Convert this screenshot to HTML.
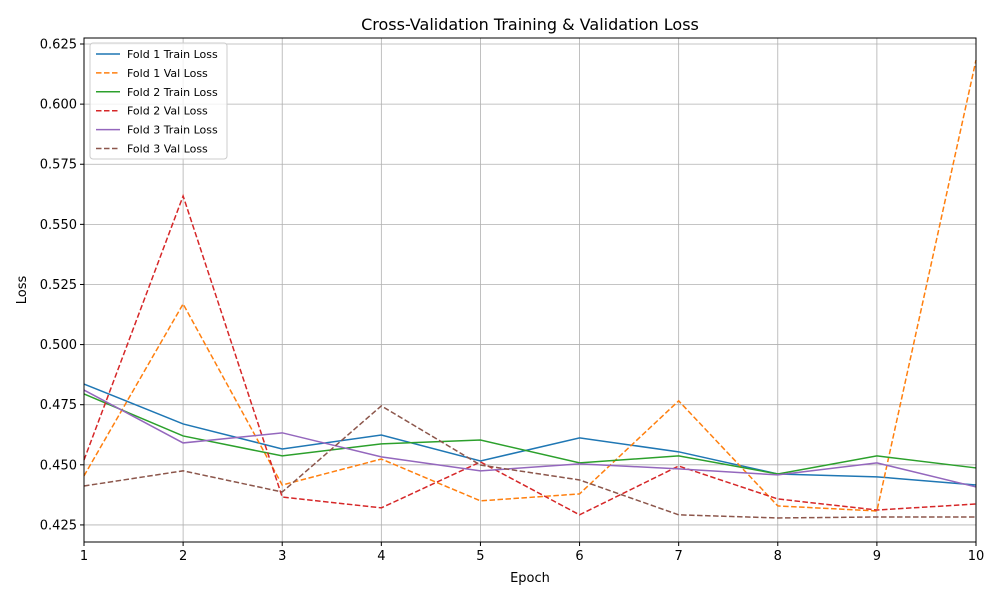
<!DOCTYPE html>
<html><head><meta charset="utf-8"><style>
body{margin:0;background:#fff;font-family:"Liberation Sans","DejaVu Sans",sans-serif}
svg text{font-family:"DejaVu Sans","Liberation Sans",sans-serif}
</style></head><body>
<svg id="chart" width="1000" height="600" xmlns="http://www.w3.org/2000/svg">
<rect width="1000" height="600" fill="#fff"/>
<g id="grid"></g>
<g id="series"></g>
<rect x="84" y="38" width="892" height="504" fill="none" stroke="#000" stroke-width="1"/>
<g id="ticks"></g>
<text x="530" y="30" text-anchor="middle" font-size="16">Cross-Validation Training &amp; Validation Loss</text>
<text x="530" y="582" text-anchor="middle" font-size="13">Epoch</text>
<text x="26" y="290" text-anchor="middle" font-size="13" transform="rotate(-90 26 290)">Loss</text>
<g id="legend"></g>
</svg>
<script>
const epochs=[1,2,3,4,5,6,7,8,9,10];
const yTicks=[0.425,0.45,0.475,0.5,0.525,0.55,0.575,0.6,0.625];
const seriesNames=["Fold 1 Train Loss","Fold 1 Val Loss","Fold 2 Train Loss","Fold 2 Val Loss","Fold 3 Train Loss","Fold 3 Val Loss"];
const fold1Train=[0.4836,0.467,0.4566,0.4624,0.4516,0.4612,0.4554,0.4462,0.445,0.4416];
const fold1Val=[0.4454,0.5169,0.4416,0.4524,0.435,0.4379,0.4766,0.4329,0.4308,0.6183];
const fold2Train=[0.4795,0.462,0.4537,0.4587,0.4603,0.4508,0.4537,0.4462,0.4537,0.4487];
const fold2Val=[0.452,0.5618,0.4366,0.4321,0.4512,0.4292,0.4495,0.4358,0.4312,0.4337];
const fold3Train=[0.4811,0.4591,0.4633,0.4533,0.4475,0.4504,0.4483,0.4458,0.4508,0.4408];
const fold3Val=[0.4412,0.4475,0.4387,0.4745,0.4499,0.4437,0.4292,0.4279,0.4283,0.4283];
const allSeries=[fold1Train,fold1Val,fold2Train,fold2Val,fold3Train,fold3Val];
const colors=["#1f77b4","#ff7f0e","#2ca02c","#d62728","#9467bd","#8c564b"];
const NS="http://www.w3.org/2000/svg";
const X0=84,X1=976,Y0=542,Y1=38,xmin=1,xmax=10,ymin=0.4179,ymax=0.6275;
const xs=v=>X0+(v-xmin)/(xmax-xmin)*(X1-X0);
const ys=v=>Y0-(v-ymin)/(ymax-ymin)*(Y0-Y1);
function mk(t,a,p){const e=document.createElementNS(NS,t);for(const k in a)e.setAttribute(k,a[k]);p.appendChild(e);return e;}
const grid=document.getElementById('grid'),ticks=document.getElementById('ticks');
epochs.forEach(e=>{const x=xs(e);
 const g=mk('line',{x1:x,x2:x,y1:Y1,y2:Y0,stroke:'#b0b0b0','stroke-width':0.8},grid);
 
 
 mk('line',{x1:x,x2:x,y1:Y0,y2:Y0+4,stroke:'#000'},ticks);
 const t=mk('text',{x:x,y:Y0+18,'text-anchor':'middle','font-size':13},ticks);t.textContent=e;
 
 
});
yTicks.forEach(v=>{const y=ys(v);
 const g=mk('line',{x1:X0,x2:X1,y1:y,y2:y,stroke:'#b0b0b0','stroke-width':0.8},grid);
 
 
 mk('line',{x1:X0-4,x2:X0,y1:y,y2:y,stroke:'#000'},ticks);
 const t=mk('text',{x:X0-7,y:y+4.5,'text-anchor':'end','font-size':13},ticks);t.textContent=v.toFixed(3);
 
 
});
const sg=document.getElementById('series');
allSeries.forEach((s,i)=>{
 const pts=s.map((v,j)=>xs(epochs[j])+','+ys(v)).join(' ');
 const a={points:pts,fill:'none',stroke:colors[i],'stroke-width':1.5};
 if(i%2)a['stroke-dasharray']='5.5,2.5';
 const p=mk('polyline',a,sg);
 
 
});
const lg=document.getElementById('legend');
const box=mk('rect',{x:90,y:43,width:137,height:116,fill:'#fff','fill-opacity':0.8,stroke:'#ccc',rx:3},lg);


seriesNames.forEach((n,i)=>{const y=54+i*18.9;
 const a={x1:96,x2:120,y1:y,y2:y,stroke:colors[i],'stroke-width':1.5};
 if(i%2)a['stroke-dasharray']='5.5,2.5';
 mk('line',a,lg);
 const t=mk('text',{x:127,y:y+4,'font-size':11},lg);t.textContent=n;
 
 
});
</script>
</body></html>
